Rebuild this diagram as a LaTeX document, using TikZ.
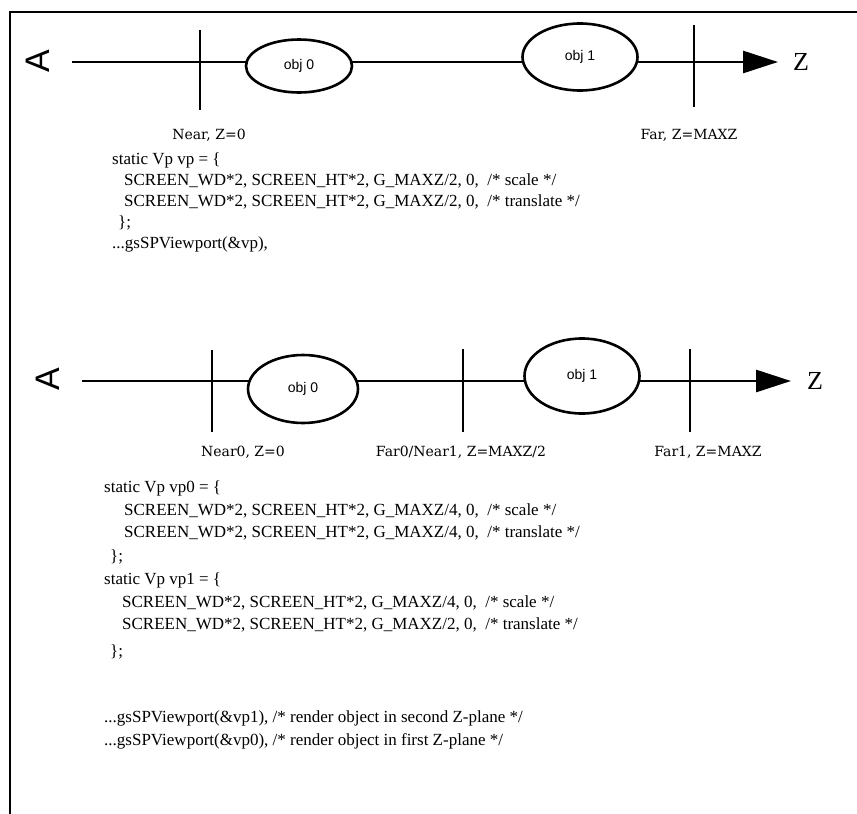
\documentclass[tikz,border=0pt]{standalone}
\usepackage{fontspec}
\setmainfont{Liberation Serif}
\newfontfamily\objfont{Liberation Sans}
\newfontfamily\planefont{DejaVu Serif}
\usetikzlibrary{shapes.geometric, arrows.meta}

\begin{document}
\begin{tikzpicture}[x=1pt, y=-1pt,
    obj/.style={ellipse, draw=black, fill=white, line width=2.6pt, inner sep=0pt, font=\objfont\fontsize{14}{14}\selectfont},
    axis/.style={line width=2.8pt, -{Triangle[length=35pt, width=22pt]}},
    tick/.style={line width=2.2pt},
    eye/.style={font=\objfont\fontsize{34}{34}\selectfont, rotate=90, inner sep=0pt},
    zlabel/.style={font=\fontsize{26}{26}\selectfont, inner sep=0pt},
    planelabel/.style={font=\planefont\fontsize{14}{14}\selectfont, inner sep=0pt},
    code/.style={anchor=west, font=\fontsize{17}{17}\selectfont, inner sep=0pt}
]
\useasboundingbox (0,0) rectangle (857,814);

% frame, open at right and bottom
\draw[line width=2.5pt] (857,12) -- (10,12) -- (10,814);

%=== PANEL 1: one viewport over the whole Z range ===
\node[eye] (eye1) at (38,61) {A};
\coordinate (ax1) at (72,62);
\coordinate (tip1) at (778,62);
\node[zlabel] (z1) at (801,62) {Z};
\draw[axis] (ax1) -- (tip1);

\draw[tick] (200,30) -- (200,110);
\draw[tick] (694,25) -- (694,107);

\node[obj, minimum width=106pt, minimum height=53pt] (obj0) at (299,66) {obj 0};
\node[obj, minimum width=115pt, minimum height=67pt] (obj1) at (580,57) {obj 1};

\node[planelabel] (near) at (209,135) {Near, Z=0};
\node[planelabel] (far)  at (689,135) {Far, Z=MAXZ};

\node[code] (vp)   at (112,160) {static Vp vp = \{};
\node[code] (vpa)  at (124,181) {SCREEN\_WD*2, SCREEN\_HT*2, G\_MAXZ/2, 0,\ \ /* scale */};
\node[code] (vpb)  at (124,202) {SCREEN\_WD*2, SCREEN\_HT*2, G\_MAXZ/2, 0,\ \ /* translate */};
\node[code] (vpc)  at (118,223) {\};};
\node[code] (call) at (112,244) {...gsSPViewport(\&vp),};

%=== PANEL 2: Z range split into two planes ===
\node[eye] (eye2) at (48,379) {A};
\coordinate (ax2) at (82,381);
\coordinate (tip2) at (791,381);
\node[zlabel] (z2) at (815,381) {Z};
\draw[axis] (ax2) -- (tip2);

\draw[tick] (212,350) -- (212,432);
\draw[tick] (463,349) -- (463,432);
\draw[tick] (690,349) -- (690,432);

\node[obj, minimum width=110pt, minimum height=68pt] (obj0b) at (303,389) {obj 0};
\node[obj, minimum width=115pt, minimum height=75pt] (obj1b) at (582,376) {obj 1};

\node[planelabel] (near0) at (243,452) {Near0, Z=0};
\node[planelabel] (far0)  at (461,452) {Far0/Near1, Z=MAXZ/2};
\node[planelabel] (far1)  at (708,452) {Far1, Z=MAXZ};

\node[code] (vp0)   at (104,488) {static Vp vp0 = \{};
\node[code] (vp0a)  at (124,511) {SCREEN\_WD*2, SCREEN\_HT*2, G\_MAXZ/4, 0,\ \ /* scale */};
\node[code] (vp0b)  at (124,533) {SCREEN\_WD*2, SCREEN\_HT*2, G\_MAXZ/4, 0,\ \ /* translate */};
\node[code] (vp0c)  at (110,557) {\};};
\node[code] (vp1)   at (104,580) {static Vp vp1 = \{};
\node[code] (vp1a)  at (122,603) {SCREEN\_WD*2, SCREEN\_HT*2, G\_MAXZ/4, 0,\ \ /* scale */};
\node[code] (vp1b)  at (122,625) {SCREEN\_WD*2, SCREEN\_HT*2, G\_MAXZ/2, 0,\ \ /* translate */};
\node[code] (vp1c)  at (110,652) {\};};
\node[code] (call1) at (104,718) {...gsSPViewport(\&vp1), /* render object in second Z-plane */};
\node[code] (call0) at (104,741) {...gsSPViewport(\&vp0), /* render object in first Z-plane */};

\end{tikzpicture}
\end{document}
